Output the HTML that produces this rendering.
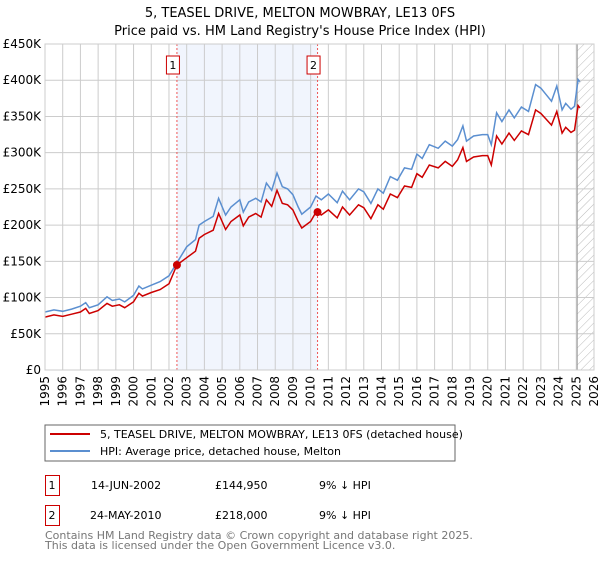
<!DOCTYPE html>
<html><head><meta charset="utf-8"><style>
body{margin:0;background:#fff;font-family:"DejaVu Sans","Liberation Sans",sans-serif;}
svg text{font-family:"DejaVu Sans","Liberation Sans",sans-serif;}
</style></head><body>
<svg id="c" width="600" height="560" xmlns="http://www.w3.org/2000/svg">
<defs><pattern id="hatch" width="6" height="6" patternUnits="userSpaceOnUse" patternTransform="rotate(45)"><line x1="0" y1="0" x2="0" y2="6" stroke="#bbb" stroke-width="1"/></pattern></defs>
<text x="300" y="17" text-anchor="middle" font-size="13">5, TEASEL DRIVE, MELTON MOWBRAY, LE13 0FS</text>
<text x="300" y="35" text-anchor="middle" font-size="13">Price paid vs. HM Land Registry's House Price Index (HPI)</text>
<g id="plot"></g>
<rect x="45" y="425" width="410" height="36" fill="#fff" stroke="#666"/>
<line x1="50" y1="434" x2="90" y2="434" stroke="#cc0000" stroke-width="2"/>
<text x="100" y="438" font-size="11">5, TEASEL DRIVE, MELTON MOWBRAY, LE13 0FS (detached house)</text>
<line x1="50" y1="451" x2="90" y2="451" stroke="#5b8fd0" stroke-width="2"/>
<text x="100" y="455" font-size="11">HPI: Average price, detached house, Melton</text>
<g>
<rect x="45.5" y="475.5" width="14" height="20" fill="#fff" stroke="#cc0000"/>
<text x="52" y="489" text-anchor="middle" font-size="11">1</text>
<text x="91" y="489" font-size="11">14-JUN-2002</text>
<text x="215" y="489" font-size="11">£144,950</text>
<text x="319" y="489" font-size="11">9% ↓ HPI</text></g>
<g>
<rect x="45.5" y="505.5" width="14" height="20" fill="#fff" stroke="#cc0000"/>
<text x="52" y="519" text-anchor="middle" font-size="11">2</text>
<text x="90" y="519" font-size="11">24-MAY-2010</text>
<text x="215" y="519" font-size="11">£218,000</text>
<text x="319" y="519" font-size="11">9% ↓ HPI</text></g>
<text x="45" y="539" font-size="11" fill="#777">Contains HM Land Registry data © Crown copyright and database right 2025.</text>
<text x="45" y="549" font-size="11" fill="#777">This data is licensed under the Open Government Licence v3.0.</text>
</svg>
<script>
const hpiYears=[1995,1995.5,1996,1996.5,1997,1997.3,1997.5,1998,1998.5,1998.8,1999.2,1999.5,2000,2000.3,2000.5,2001,2001.5,2002,2002.45,2003,2003.5,2003.7,2004,2004.5,2004.8,2005.2,2005.5,2006,2006.2,2006.5,2006.9,2007.2,2007.5,2007.8,2008.1,2008.4,2008.7,2009,2009.3,2009.5,2010,2010.3,2010.6,2011,2011.5,2011.8,2012.2,2012.7,2013,2013.4,2013.8,2014.1,2014.5,2014.9,2015.3,2015.7,2016,2016.3,2016.7,2017.2,2017.6,2018,2018.3,2018.6,2018.8,2019.2,2019.7,2020,2020.2,2020.5,2020.8,2021.2,2021.5,2021.9,2022.3,2022.7,2023,2023.3,2023.6,2023.9,2024.2,2024.4,2024.7,2024.9,2025.1,2025.2];
const hpiValues=[80,83,81,84,88,93,86,90,101,96,98,94,103,116,112,117,122,130,148,170,180,200,205,212,237,214,225,235,218,232,237,232,258,248,272,253,250,242,225,215,225,240,235,243,231,247,235,250,246,230,250,244,267,262,279,277,298,292,311,306,316,309,318,337,316,323,325,325,311,355,343,359,348,363,357,394,389,380,371,392,359,368,360,364,401,398];
const paidValues=[73,76,74,77,80,85,78,82,92,88,90,86,94,106,102,107,111,119,145,155,164,182,187,193,216,194,205,214,199,211,216,211,235,226,248,230,228,221,205,196,205,218,214,221,210,225,214,228,224,209,228,222,243,238,254,252,271,266,283,279,288,281,290,307,288,294,296,296,283,323,312,327,317,330,325,359,354,346,338,357,327,335,328,331,365,362];
const yTicks=[0,50,100,150,200,250,300,350,400,450];
const yTickLabels=["£0","£50K","£100K","£150K","£200K","£250K","£300K","£350K","£400K","£450K"];
const xTicks=[1995,1996,1997,1998,1999,2000,2001,2002,2003,2004,2005,2006,2007,2008,2009,2010,2011,2012,2013,2014,2015,2016,2017,2018,2019,2020,2021,2022,2023,2024,2025,2026];
const saleDates=[2002.45,2010.39];
const salePrices=[144.95,218];
const saleLabels=["1","2"];
const L=45,R=594,T=44,B=370;
const X=v=>L+(v-1995)/(2026-1995)*(R-L);
const Y=v=>B-v/450*(B-T);
const g=document.getElementById('plot');
const NS='http://www.w3.org/2000/svg';
function mk(tag,attrs,parent){const e=document.createElementNS(NS,tag);for(const k in attrs)e.setAttribute(k,attrs[k]);(parent||g).appendChild(e);return e;}
let e;
e=mk('rect',{x:X(saleDates[0]),y:T,width:X(saleDates[1])-X(saleDates[0]),height:B-T,fill:'#eef3fc',opacity:0.8});


e=mk('rect',{x:X(2025.05),y:T,width:R-X(2025.05),height:B-T,fill:'url(#hatch)'});


yTicks.forEach((t,i)=>{
 e=mk('line',{x1:L,x2:R,y1:Y(t),y2:Y(t),stroke:'#ccc','stroke-width':1});
 
 
 e=mk('text',{x:L-4,y:Y(t)+4,'text-anchor':'end','font-size':12});
 e.textContent=yTickLabels[i];
 
 
});
xTicks.forEach(t=>{
 e=mk('line',{x1:X(t),x2:X(t),y1:T,y2:B,stroke:'#ccc','stroke-width':1});
 
 
 e=mk('text',{x:X(t)+4,y:B+6,'text-anchor':'end','font-size':12,transform:`rotate(-90 ${X(t)+4} ${B+6})`});
 e.textContent=t;
 
 
});
e=mk('line',{x1:X(2025.05),x2:X(2025.05),y1:T,y2:B,stroke:'#999','stroke-width':1});


saleDates.forEach((d,i)=>{
 e=mk('line',{x1:X(d),x2:X(d),y1:T,y2:B,stroke:'#e55','stroke-width':1,'stroke-dasharray':'2,2'});
 
 
 e=mk('rect',{x:X(d)-10.5,y:56,width:13,height:18,fill:'#fff',stroke:'#cc0000'});
 
 
 e=mk('text',{x:X(d)-4,y:69,'text-anchor':'middle','font-size':11});
 e.textContent=saleLabels[i];
 
 
});
const path=vals=>hpiYears.map((y,i)=>(i?'L':'M')+X(y).toFixed(1)+','+Y(vals[i]).toFixed(1)).join('');
e=mk('path',{d:path(hpiValues),fill:'none',stroke:'#5b8fd0','stroke-width':1.5});


e=mk('path',{d:path(paidValues),fill:'none',stroke:'#cc0000','stroke-width':1.5});


saleDates.forEach((d,i)=>{
 e=mk('circle',{cx:X(d),cy:Y(salePrices[i]),r:4,fill:'#cc0000'});
 
 
});
e=mk('rect',{x:L,y:T,width:R-L,height:B-T,fill:'none',stroke:'#ccc'});


</script>
</body></html>
